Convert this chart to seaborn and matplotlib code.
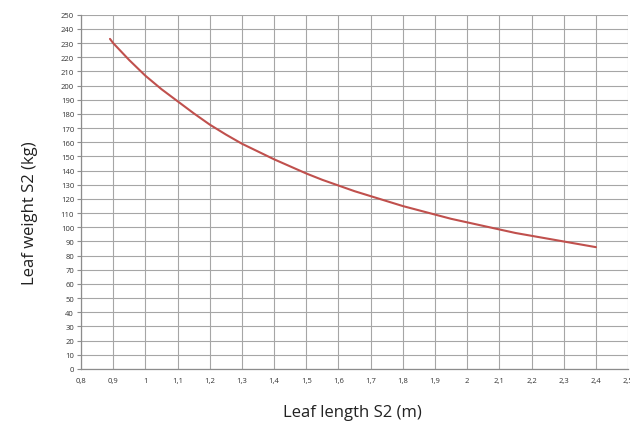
import matplotlib
matplotlib.use("Agg")
import matplotlib.pyplot as plt
import seaborn as sns
import pandas as pd
from matplotlib.ticker import FuncFormatter, MultipleLocator

length_m = [0.89, 0.9, 0.95, 1.0, 1.05, 1.1, 1.15, 1.2, 1.25, 1.3, 1.35, 1.4, 1.45, 1.5,
            1.55, 1.6, 1.65, 1.7, 1.75, 1.8, 1.85, 1.9, 1.95, 2.0, 2.05, 2.1, 2.15, 2.2,
            2.25, 2.3, 2.35, 2.4]
weight_kg = [233, 230, 218, 207, 197.5, 189, 180.5, 172.5, 165.5, 159, 153.5, 148, 143, 138,
             133.5, 129.5, 125.5, 122, 118.5, 115, 112, 109, 106, 103.5, 101, 98.5, 96, 94,
             92, 90, 88, 86]

df = pd.DataFrame({"length": length_m, "weight": weight_kg})

sns.set_theme(style="white")
plt.rcParams['font.family'] = ['Open Sans', 'DejaVu Sans']

fig = plt.figure(figsize=(6.3, 4.27), dpi=100)
ax = fig.add_axes([0.1286, 0.1335, 0.8684, 0.8295])

sns.lineplot(data=df, x="length", y="weight", ax=ax, color="#c0504d", linewidth=1.5)

ax.set_xlim(0.8, 2.5)
ax.set_ylim(0, 250)
ax.xaxis.set_major_locator(MultipleLocator(0.1))
ax.yaxis.set_major_locator(MultipleLocator(10))

def fmt(v, pos):
    s = f"{v:.1f}".rstrip("0").rstrip(".")
    return s.replace(".", ",")

ax.xaxis.set_major_formatter(FuncFormatter(fmt))
ax.yaxis.set_major_formatter(FuncFormatter(lambda v, p: f"{int(round(v))}"))

ax.grid(True, color="#a6a6a6", linewidth=0.8)
ax.set_axisbelow(True)
for side in ["top", "right"]:
    ax.spines[side].set_visible(False)
ax.spines["left"].set_color("#8c8c8c")
ax.spines["bottom"].set_color("#8c8c8c")
ax.spines["left"].set_linewidth(0.9)
ax.spines["bottom"].set_linewidth(0.9)

ax.tick_params(axis="y", which="major", left=True, length=3, width=0.8, color="#8c8c8c",
               labelsize=5.5, pad=2, labelcolor="#333333")
ax.tick_params(axis="x", which="major", bottom=False, length=0, labelsize=5.5, pad=6,
               labelcolor="#333333")

ax.set_xlabel("")
ax.set_ylabel("")
fig.text(0.559, 0.033, "Leaf length S2 (m)", ha="center", va="center", fontsize=12, color="#222222")
fig.text(0.048, 0.50, "Leaf weight S2 (kg)", ha="center", va="center", rotation=90,
         fontsize=12, color="#222222")

fig.savefig("out.png", dpi=100)
